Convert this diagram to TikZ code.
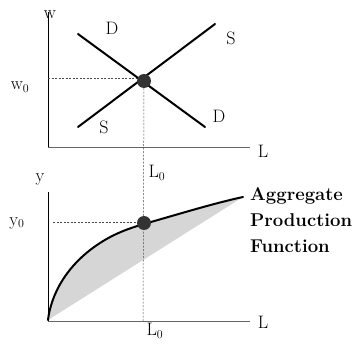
\documentclass[tikz,border=0pt]{standalone}
\begin{document}
\begin{tikzpicture}[x=1pt,y=-1pt,
  lbl/.style={font=\fontsize{18}{20}\selectfont, inner sep=0pt},
  axis/.style={line width=0.9pt},
  curveline/.style={line width=2pt, line cap=round},
  guide/.style={dashed, dash pattern=on 2pt off 1.5pt, line width=0.5pt, black!70},
  eqdot/.style={circle, fill=black!80, minimum size=14pt, inner sep=0pt}]
\useasboundingbox (0,0) rectangle (362,345);
% top panel
\coordinate (wtop) at (48,12);
\coordinate (o1) at (48,147);
\coordinate (xend1) at (250,147);
\coordinate (d1) at (78,34);
\coordinate (d2) at (205,127);
\coordinate (s1) at (78,127);
\coordinate (s2) at (215,24);
\draw[axis] (wtop) -- (o1);
\draw[axis, black!60] (o1) -- (xend1);
\coordinate (w0line) at (48,78);
\coordinate (w0end) at (141,78);
\draw[guide] (w0line) -- (w0end);
\draw[curveline] (d1) -- (d2);
\draw[curveline] (s1) -- (s2);
\node[eqdot] (eq1) at (144,81) {};
\node[lbl] (wl) at (50,15) {w};
\node[lbl] (w0) at (20,87) {w$_0$};
\node[lbl] (D1) at (112,28) {D};
\node[lbl] (S1) at (231,38) {S};
\node[lbl] (D2) at (219,116) {D};
\node[lbl] (S2) at (104,127) {S};
\node[lbl] (L1) at (263,151) {L};
\node[lbl] (L0a) at (157,173) {L$_0$};
% bottom panel
\coordinate (ytop) at (48,192);
\coordinate (o2) at (48,321);
\coordinate (xend2) at (250,321);
\coordinate (porig) at (48,320);
\coordinate (pend) at (243,197);
\def\apfcurve{(porig) .. controls (51,295) and (66,265) .. (100,243) .. controls (115,233.25) and (130,228) .. (144,224) .. controls (180,213.7) and (215,203) .. (pend)}
\fill[black!16] \apfcurve -- cycle;
\draw[axis] (ytop) -- (o2);
\draw[axis, black!60] (o2) -- (xend2);
\coordinate (y0line) at (53,222);
\coordinate (y0end) at (141,222);
\draw[guide] (y0line) -- (y0end);
\coordinate (L0base) at (143,321);
\draw[guide] (eq1) -- (L0base);
\draw[curveline] \apfcurve;
\node[eqdot] (eq2) at (144,223) {};
\node[lbl] (yl) at (40,179) {y};
\node[lbl] (y0) at (17,223) {y$_0$};
\node[lbl] (L2) at (263,322) {L};
\node[lbl] (L0b) at (155,331) {L$_0$};
\node[lbl, font=\fontsize{18.5}{26}\selectfont\bfseries, align=left, anchor=north west] (apf) at (250,187) {Aggregate\\Production\\Function};
\end{tikzpicture}
\end{document}
